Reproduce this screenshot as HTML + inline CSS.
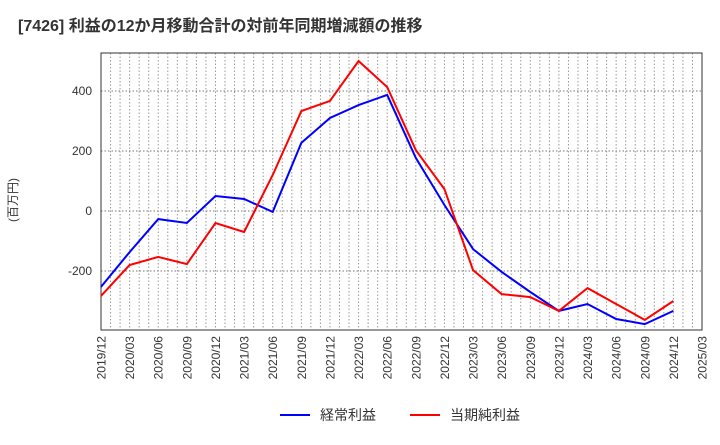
<!DOCTYPE html>
<html><head><meta charset="utf-8"><style>
body{margin:0;background:#fff;font-family:"Liberation Sans","Noto Sans CJK JP",sans-serif}
</style></head><body>
<svg id="c" width="720" height="440" xmlns="http://www.w3.org/2000/svg">
<text x="18" y="31" font-size="16" font-weight="bold" fill="#333" font-family="Liberation Sans,Noto Sans CJK JP,sans-serif">[7426]  利益の12か月移動合計の対前年同期増減額の推移</text>
<text transform="translate(17,200) rotate(-90)" text-anchor="middle" font-size="12" fill="#333" font-family="Liberation Sans,Noto Sans CJK JP,sans-serif">(百万円)</text>
<g id="grid"></g><g id="axes"></g><g id="series"></g>
<g>
<line x1="280" y1="415" x2="310" y2="415" stroke="#0000ff" stroke-width="2"/>
<text x="320" y="420" font-size="14" fill="#333">経常利益</text>
<line x1="410" y1="415" x2="440" y2="415" stroke="#ff0000" stroke-width="2"/>
<text x="450" y="420" font-size="14" fill="#333">当期純利益</text>
</g>
</svg>
<script>
const categories=["2019/12","2020/03","2020/06","2020/09","2020/12","2021/03","2021/06","2021/09","2021/12","2022/03","2022/06","2022/09","2022/12","2023/03","2023/06","2023/09","2023/12","2024/03","2024/06","2024/09","2024/12","2025/03"];
const ordinaryProfit=[-253,-137,-27,-40,50,40,-3,227,310,353,387,177,20,-127,-203,-270,-333,-310,-360,-377,-333];
const netProfit=[-283,-180,-153,-177,-40,-70,120,333,367,500,413,203,73,-197,-277,-287,-333,-257,-310,-363,-300];
const yTicks=[400,200,0,-200];
const L=101,R=702,T=53,B=330;
const xs=i=>L+(R-L)*i/(categories.length-1);
const ys=v=>211-v*0.3;
const NS="http://www.w3.org/2000/svg";
function mk(p,t,a){const e=document.createElementNS(NS,t);for(const k in a)e.setAttribute(k,a[k]);p.appendChild(e);return e;}
const g=document.getElementById('grid'),ax=document.getElementById('axes'),s=document.getElementById('series');
const months=(categories.length-1)*3;
for(let m=1;m<months;m++){const x=L+(R-L)*m/months;
const l=mk(g,'line',{x1:x,x2:x,y1:T,y2:B,stroke:'#999','stroke-width':1,'stroke-dasharray':'1.5,2'});

}
yTicks.forEach(v=>{const y=ys(v);
const l=mk(g,'line',{x1:L,x2:R,y1:y,y2:y,stroke:'#777','stroke-width':1,'stroke-dasharray':'1.5,2'});


const t=mk(ax,'text',{x:L-9,y:y+4,'text-anchor':'end','font-size':12,fill:'#333'});t.textContent=v;

});
const fr=mk(ax,'rect',{x:L,y:T,width:R-L,height:B-T,fill:'none',stroke:'#333','stroke-width':1});


categories.forEach((c,i)=>{const x=xs(i);
const t=mk(ax,'text',{transform:`translate(${x+4.5},${B+6}) rotate(-90)`,'text-anchor':'end','font-size':12,fill:'#333'});t.textContent=c;

});
function line(d,col,name){const p=mk(s,'polyline',{points:d.map((v,i)=>xs(i)+','+ys(v)).join(' '),fill:'none',stroke:col,'stroke-width':2});

}
line(ordinaryProfit,'#0000ff','ordinary-profit-line');
line(netProfit,'#ff0000','net-profit-line');
</script>
</body></html>
